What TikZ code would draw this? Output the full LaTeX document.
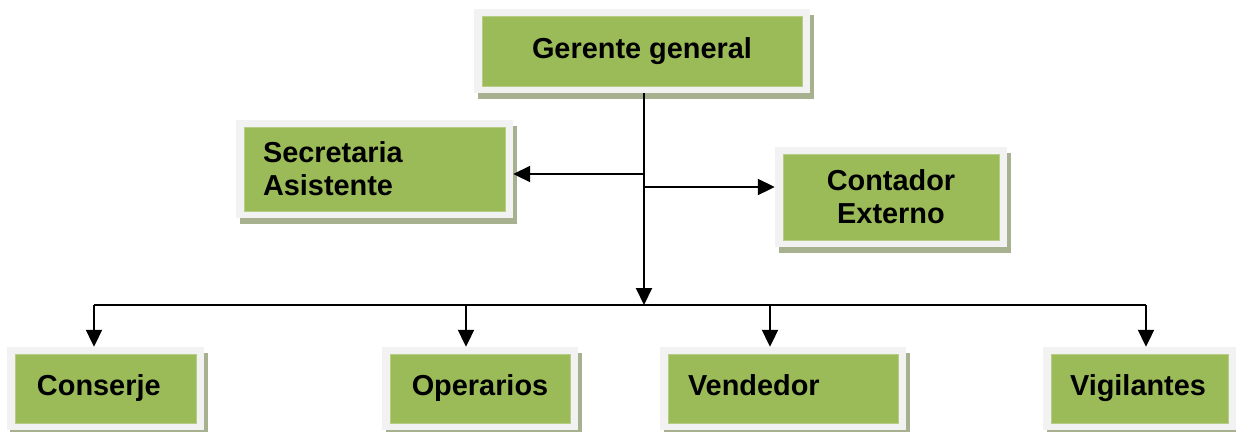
\documentclass[tikz,border=0pt]{standalone}
\usepackage{fontspec}
\setmainfont{Liberation Sans}
\usetikzlibrary{arrows.meta,shadows}
\definecolor{boxgreen}{HTML}{9BBB59}
\definecolor{boxedge}{HTML}{B7CD86}
\definecolor{boxframe}{HTML}{F2F2F2}
\definecolor{boxshadow}{HTML}{A7B08F}
\tikzset{
  orgbox/.style={
    rectangle, fill=boxframe, inner ysep=0pt, minimum height=#1,
    font=\fontsize{29}{33}\selectfont\bfseries,
    general shadow={fill=boxshadow, shadow xshift=3.5bp, shadow yshift=-5.5bp},
    path picture={
      \fill[boxgreen, draw=boxedge, line width=0.8bp]
        ([shift={(8bp,-7bp)}]path picture bounding box.north west) rectangle
        ([shift={(-8bp,7bp)}]path picture bounding box.south east);
    }
  },
  link/.style={line width=2bp, -{Triangle[length=17bp,width=16bp]}},
  bus/.style={line width=1.5bp}
}
\begin{document}
\begin{tikzpicture}[x=1bp,y=-1bp]
\useasboundingbox (0,0) rectangle (1236,431);
% boxes
\node[orgbox=84bp, minimum width=336bp, align=center] (gg) at (642,51) {Gerente general};
\node[orgbox=98bp, inner xsep=27bp, text width=223bp, align=left] (sec) at (374.5,169) {Secretaria\\Asistente};
\node[orgbox=100bp, inner xsep=10bp, text width=212bp, align=center] (cont) at (891,197) {Contador\\Externo};
\node[orgbox=83bp, inner xsep=30bp, text width=137bp, align=left] (cons) at (105.5,388.5) {\strut Conserje};
\node[orgbox=83bp, inner xsep=28bp, text width=140bp, align=center] (oper) at (480,388.5) {\strut Operarios};
\node[orgbox=83bp, inner xsep=28bp, text width=190bp, align=left] (vend) at (783,388.5) {\strut Vendedor};
\node[orgbox=83bp, inner xsep=27bp, text width=139bp, align=left] (vig) at (1139.5,388.5) {\strut Vigilantes};
% junction points
\coordinate (j) at (644,305);
\coordinate (ls) at (644,174);
\coordinate (rs) at (644,187);
\coordinate (bl) at (94,305);
\coordinate (br) at (1146,305);
\coordinate (bo) at (466,305);
\coordinate (bv) at (770,305);
% connectors
\draw[link] (j |- gg.south) -- (j);
\draw[link] (ls) -- (ls -| sec.east);
\draw[link] (rs) -- (rs -| cont.west);
\draw[bus] (bl) -- (br);
\draw[link] (bl) -- (bl |- cons.north);
\draw[link] (bo) -- (bo |- oper.north);
\draw[link] (bv) -- (bv |- vend.north);
\draw[link] (br) -- (br |- vig.north);
\end{tikzpicture}
\end{document}
